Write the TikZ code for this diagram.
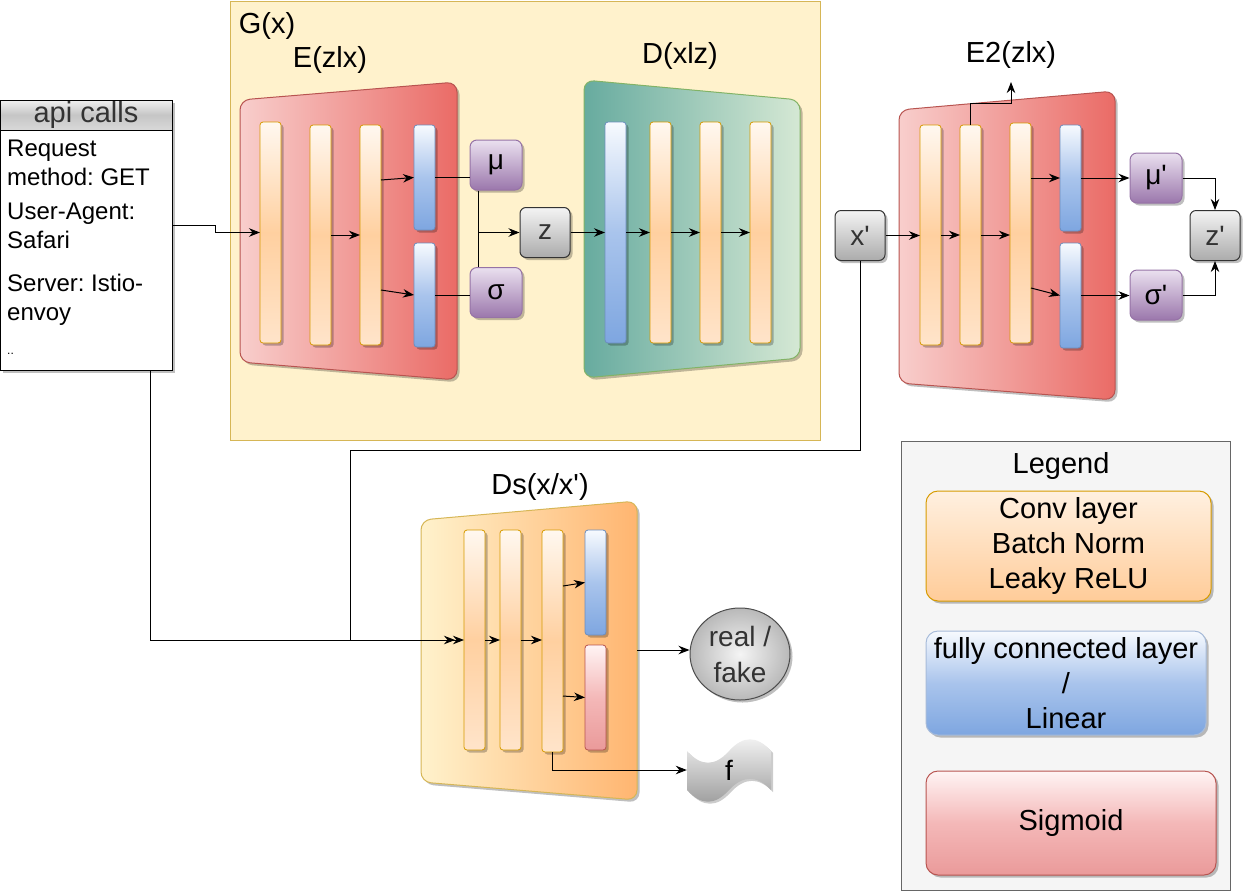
\documentclass[tikz,border=0pt]{standalone}
\usepackage{fontspec}
\setmainfont{Liberation Sans}[Ligatures=TeXOff]
\usetikzlibrary{arrows.meta,shadows,calc,shapes.geometric}
\frenchspacing
\definecolor{gfill}{HTML}{FFF2CC}
\definecolor{gline}{HTML}{D6B656}
\definecolor{encL}{HTML}{F8CECC}
\definecolor{encR}{HTML}{EA6B66}
\definecolor{encB}{HTML}{B85450}
\definecolor{decL}{HTML}{67AB9F}
\definecolor{decR}{HTML}{D5E8D4}
\definecolor{decB}{HTML}{82B366}
\definecolor{dsL}{HTML}{FFF2CC}
\definecolor{dsR}{HTML}{FFB570}
\definecolor{orTop}{HTML}{FFF8F0}
\definecolor{orMid}{HTML}{FFD0A0}
\definecolor{orBot}{HTML}{FFE4CA}
\definecolor{orLine}{HTML}{D79B00}
\definecolor{blTop}{HTML}{F7FAFE}
\definecolor{blMid}{HTML}{A9C4EC}
\definecolor{blBot}{HTML}{7EA6E0}
\definecolor{blLine}{HTML}{6C8EBF}
\definecolor{rdTop}{HTML}{FFF4F4}
\definecolor{rdMid}{HTML}{F4B8B8}
\definecolor{rdBot}{HTML}{EA9A9A}
\definecolor{rdLine}{HTML}{B85450}
\definecolor{puTop}{HTML}{EAE0EF}
\definecolor{puBot}{HTML}{9B77AC}
\definecolor{puLine}{HTML}{9673A6}
\definecolor{gyTop}{HTML}{F4F4F4}
\definecolor{gyBot}{HTML}{ABABAB}
\definecolor{txtgray}{HTML}{333333}
\definecolor{lgFill}{HTML}{F5F5F5}
\definecolor{lgLine}{HTML}{666666}
\definecolor{lcTop}{HTML}{FFF0E0}
\definecolor{lcBot}{HTML}{FFCC99}
\tikzset{
  shad/.style={drop shadow={shadow xshift=2.5pt,shadow yshift=-2.5pt,opacity=0.25,fill=black}},
  bar/.style={line width=0.8pt, rounded corners=3pt, minimum width=21pt, inner sep=0pt, outer sep=0pt, shad},
  conv/.style={bar, draw=orLine, minimum height=#1pt, top color=orTop, bottom color=orBot, middle color=orMid},
  fc/.style={bar, draw=blLine, minimum height=#1pt, top color=blTop, bottom color=blBot, middle color=blMid},
  sig/.style={bar, draw=rdLine, minimum height=#1pt, top color=rdTop, bottom color=rdBot, middle color=rdMid},
  grybox/.style={draw=black!80, line width=1pt, rounded corners=6pt, minimum width=50pt, minimum height=50pt, inner sep=0pt, top color=gyTop, bottom color=gyBot, shad, text=txtgray, font=\fontsize{28}{34}\selectfont},
  purbox/.style={draw=puLine, line width=1pt, rounded corners=7pt, minimum width=52pt, minimum height=50pt, inner sep=0pt, top color=puTop, bottom color=puBot, shad, font=\fontsize{28}{34}\selectfont},
  trap/.style={shad, line width=1pt, rounded corners=10pt},
  conn/.style={line width=1pt},
  arr/.style={line width=1pt, -{Stealth[length=11pt,width=8.5pt]}},
  lab/.style={font=\fontsize{29}{35}\selectfont, inner sep=0pt},
  body/.style={font=\fontsize{24}{29}\selectfont, anchor=base west, inner sep=0pt},
  legbox/.style={line width=1pt, rounded corners=12pt, inner sep=0pt, align=center, shad, font=\fontsize{29}{35}\selectfont},
}
\begin{document}
\begin{tikzpicture}[x=1pt,y=-1pt]
\useasboundingbox (0,0) rectangle (1244,892);
% ---------- G box
\node[draw=gline, fill=gfill, line width=1pt, minimum width=590pt, minimum height=439pt, inner sep=0pt, anchor=north west] (gbox) at (230,1) {};
\node[lab] (gx) at (267,26) {G(x)};
\node[lab] (elab) at (330,60) {E(zlx)};
\node[lab] (dlab) at (680,56) {D(xlz)};
% ---------- encoder
\path[trap, draw=encB, left color=encL, right color=encR] (240,100) -- (457,82) -- (457,380) -- (240,362) -- cycle;
\node[conv=221] (e1) at (270.5,232.5) {};
\node[conv=220] (e2) at (320.5,235) {};
\node[conv=220] (e3) at (370.5,235) {};
\node[fc=105] (eb1) at (424.5,177.5) {};
\node[fc=104] (eb2) at (424.5,295) {};
\node[purbox] (mu) at (496,165) {μ};
\node[purbox] (sg) at (496,292.5) {σ};
\node[grybox] (z) at (545,232.5) {z};
% ---------- decoder
\path[trap, draw=decB, left color=decL, right color=decR] (584,80) -- (800,100) -- (800,358) -- (584,378) -- cycle;
\node[fc=221] (d1) at (615.5,232.5) {};
\node[conv=221] (d2) at (660.5,232.5) {};
\node[conv=221] (d3) at (710.5,232.5) {};
\node[conv=221] (d4) at (760.5,232.5) {};
% ---------- E2
\node[lab] (e2lab) at (1011,55) {E2(zlx)};
\path[trap, draw=encB, left color=encL, right color=encR] (899,110) -- (1115,91) -- (1115,400) -- (899,383) -- cycle;
\node[conv=220] (f1) at (930.5,235) {};
\node[conv=220] (f2) at (970.5,235) {};
\node[conv=220] (f3) at (1020.5,233) {};
\node[fc=106] (fb1) at (1070.5,178) {};
\node[fc=105] (fb2) at (1070.5,295.5) {};
\node[purbox] (mup) at (1156,178) {μ'};
\node[purbox] (sgp) at (1156,295) {σ'};
\node[grybox] (xp) at (860,235.5) {x'};
\node[grybox] (zp) at (1215,235.5) {z'};
\coordinate (e2out) at (1011,82);
% ---------- api calls
\node[draw=black, line width=1pt, fill=white, minimum width=172pt, minimum height=270pt, inner sep=0pt, shad] (api) at (86,235) {};
\node[draw=black, line width=1pt, minimum width=172pt, minimum height=30pt, inner sep=0pt, top color=gray!12, bottom color=gray!30, middle color=gray!45, text=txtgray, font=\fontsize{29}{35}\selectfont] (apih) at (86,115) {api calls};
\node[body] (t1) at (7,156) {Request};
\node[body] (t2) at (7,185) {method: GET};
\node[body] (t3) at (7,219) {User-Agent:};
\node[body] (t4) at (7,248) {Safari};
\node[body] (t5) at (7,291) {Server: Istio-};
\node[body] (t6) at (7,320) {envoy};
\node[body, font=\fontsize{12}{14}\selectfont] (t7) at (7,354) {..};
% ---------- Ds
\node[lab] (dslab) at (540,487) {Ds(x/x')};
\path[trap, draw=gline, left color=dsL, right color=dsR] (421,520) -- (637,501) -- (637,800) -- (421,782) -- cycle;
\node[conv=220] (s1) at (474.5,640) {};
\node[conv=220] (s2) at (510.5,640) {};
\node[conv=222] (s3) at (552.5,641) {};
\node[fc=105] (sb) at (595.5,582.5) {};
\node[sig=105] (sr) at (595.5,697.5) {};
\coordinate (dsout) at (637,650);
\node[ellipse, draw=black!70, line width=1pt, minimum width=100pt, minimum height=92pt, inner sep=0pt, inner color=gray!8, outer color=gray!55, shad, align=center, text=txtgray, font=\fontsize{28}{36}\selectfont] (rf) at (740,654) {real /\\fake};
% tape shape f
\path[top color=gray!8, bottom color=gray!78, drop shadow={shadow xshift=2pt,shadow yshift=-2pt,opacity=0.2,fill=black}]
  (687,751) .. controls (701,766.6) and (715,766.6) .. (729,751)
  .. controls (743,735.4) and (757,735.4) .. (771,751)
  -- (771,790) .. controls (757,775.1) and (743,775.1) .. (729,790)
  .. controls (715,805.6) and (701,805.6) .. (687,790) -- cycle;
\node[minimum width=84pt, minimum height=40pt, inner sep=0pt, font=\fontsize{28}{34}\selectfont] (fsh) at (729,770) {f};
% ---------- legend
\node[draw=lgLine, fill=lgFill, line width=1pt, minimum width=329pt, minimum height=449pt, inner sep=0pt, anchor=north west] (leg) at (901,441) {};
\node[lab] (legt) at (1061,466) {Legend};
\node[legbox, draw=orLine, top color=lcTop, bottom color=lcBot, minimum width=285pt, minimum height=110pt] (lg1) at (1068.5,546) {Conv layer\\Batch Norm\\Leaky ReLU};
\node[legbox, draw=blLine!60, top color=blTop, bottom color=blBot, middle color=blMid, minimum width=280pt, minimum height=104pt] (lg2) at (1066,683) {fully connected layer\\/\\Linear};
\node[legbox, draw=rdLine, top color=rdTop, bottom color=rdBot, middle color=rdMid, minimum width=290pt, minimum height=104pt] (lg3) at (1071,823) {Sigmoid};
% ---------- connectors encoder
\draw[arr] ([yshift=10pt]api.east) -- ++(43,0) |- (e1.west);
\draw[arr] (e2.east) -- (e2.east -| e3.west);
\draw[arr] ([yshift=55pt]e3.east) -- (eb1.west);
\draw[arr] ([yshift=-55pt]e3.east) -- (eb2.west);
\draw[conn] (eb1.east) -- (eb1.east -| mu.west);
\draw[conn] (eb2.east) -- (eb2.east -| sg.west);
\draw[conn] ([xshift=-18pt]mu.south) -- ([xshift=-18pt]sg.north);
\draw[arr] ([xshift=-18pt]mu.south) |- (z.west);
% decoder
\draw[arr] (z.east) -- (d1.west);
\draw[arr] (d1.east) -- (d2.west);
\draw[arr] (d2.east) -- (d3.west);
\draw[arr] (d3.east) -- (d4.west);
% E2
\draw[arr] (xp.east) -- (xp.east -| f1.west);
\draw[arr] (f1.east) -- (f2.west);
\draw[arr] (f2.east) -- (f2.east -| f3.west);
\draw[arr] ([yshift=55pt]f3.east) -- (fb1.west);
\draw[arr] ([yshift=-55pt]f3.east) -- (fb2.west);
\draw[arr] (fb1.east) -- (fb1.east -| mup.west);
\draw[arr] (fb2.east) -- (fb2.east -| sgp.west);
\draw[arr] (mup.east) -| (zp.north);
\draw[arr] (sgp.east) -| (zp.south);
\draw[arr] (f2.north) -- ++(0,-22) -| (e2out);
% lower
\coordinate (j1) at (350,450);
\draw[arr] ([xshift=64pt]api.south) |- (s1.west);
\draw[arr] (xp.south) |- (j1) |- ([xshift=-9pt]s1.west);
\draw[arr] (s1.east) -- (s2.west);
\draw[arr] (s2.east) -- (s2.east -| s3.west);
\draw[arr] ([yshift=55pt]s3.east) -- (sb.west);
\draw[arr] ([yshift=-55pt]s3.east) -- (sr.west);
\draw[arr] (dsout) -- (dsout -| rf.west);
\draw[arr] (s3.south) |- (fsh.west);
\end{tikzpicture}
\end{document}
